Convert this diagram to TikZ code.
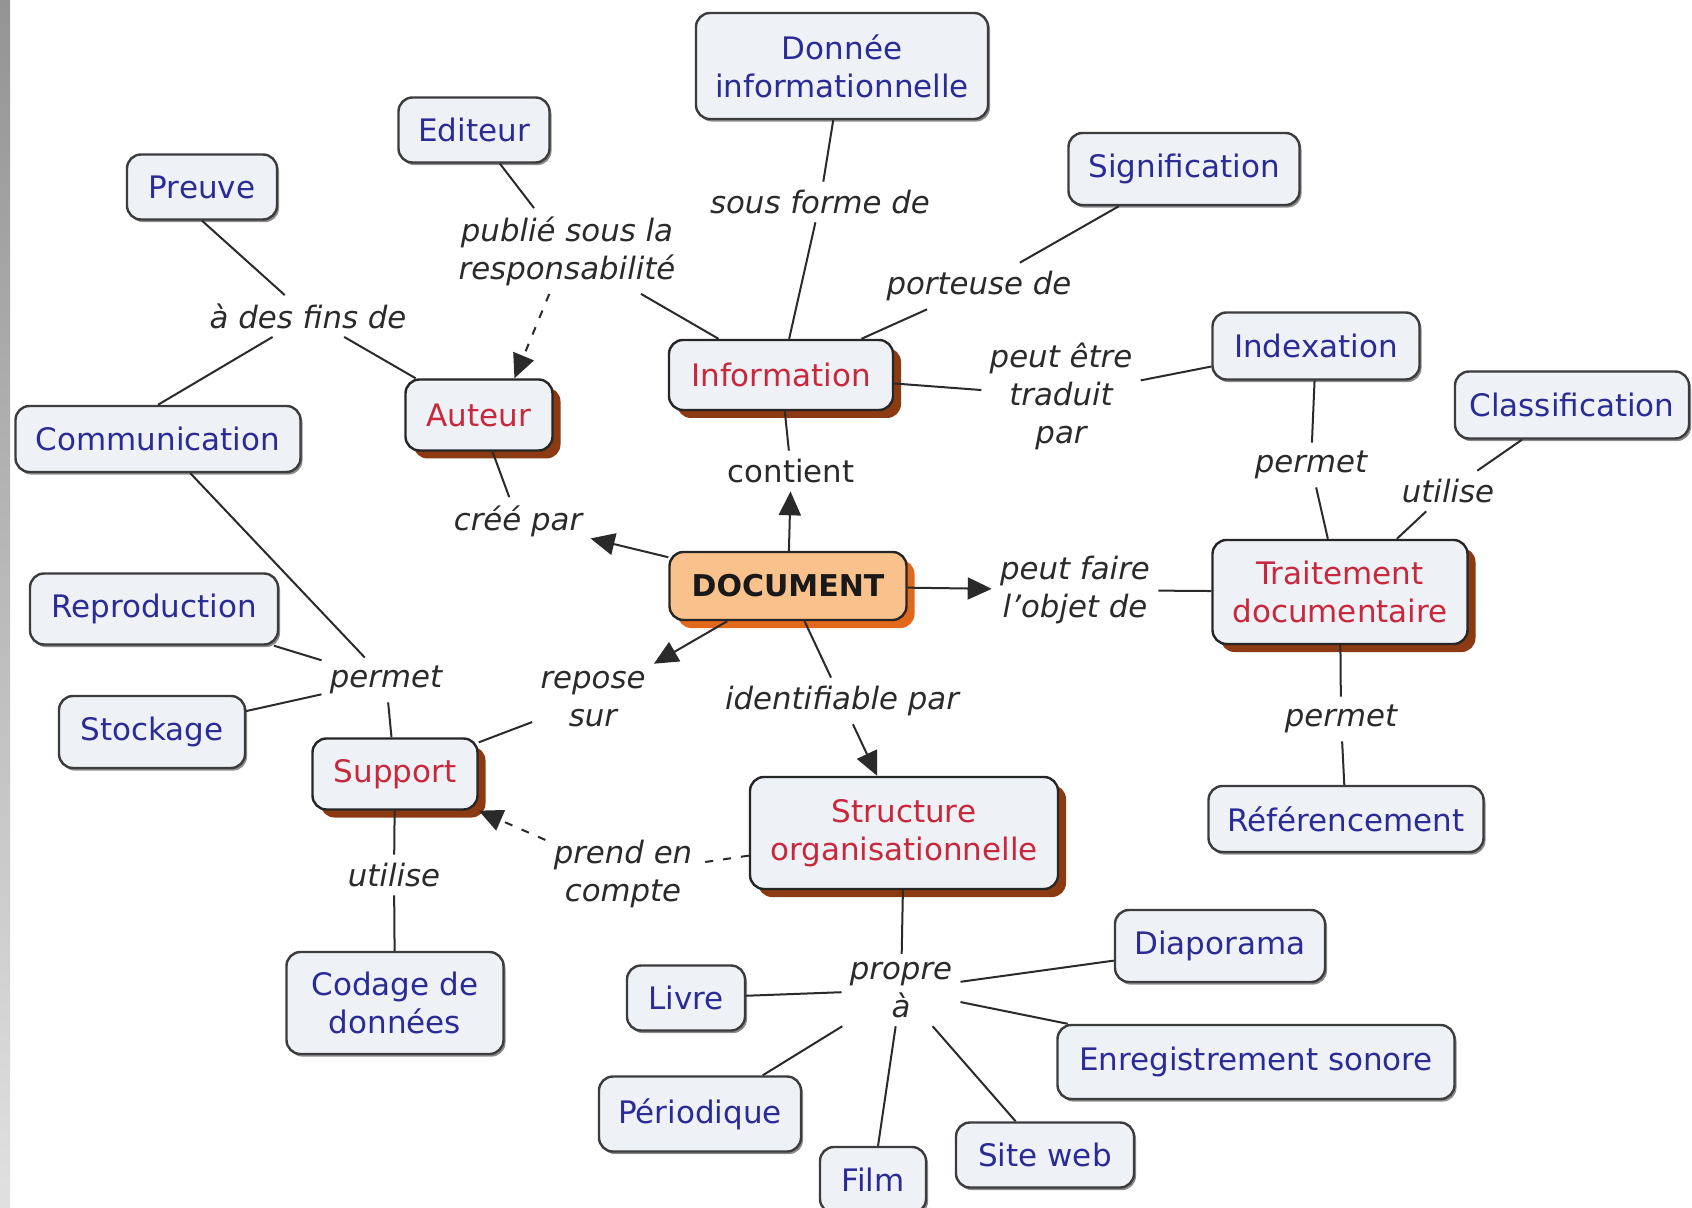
\documentclass[tikz,border=0pt]{standalone}
\usepackage{fontspec}
\setmainfont{DejaVu Sans}
\usetikzlibrary{arrows.meta,shadows}
\definecolor{cfill}{HTML}{EEF2F7}
\definecolor{cblue}{HTML}{2B2B96}
\definecolor{cred}{HTML}{C8283C}
\definecolor{cborder}{HTML}{3C3C3C}
\definecolor{brownsh}{HTML}{8B3A12}
\definecolor{docfill}{HTML}{F9C18C}
\definecolor{docsh}{HTML}{E2681C}
\definecolor{lk}{HTML}{2A2A2A}
\begin{document}
\begin{tikzpicture}[x=0.5pt,y=-0.5pt,
  cbase/.style={draw=cborder, line width=1.2pt, rounded corners=7pt, fill=cfill,
    text=cblue, font=\fontsize{15.5}{19}\selectfont, align=center, inner sep=0pt},
  concept/.style={cbase, drop shadow={shadow xshift=1pt,shadow yshift=-1.3pt,fill=black!45,opacity=1}},
  keyconcept/.style={cbase, text=cred, draw=black!85,
    drop shadow={shadow xshift=4pt,shadow yshift=-4pt,fill=brownsh,opacity=1}},
  docconcept/.style={cbase, fill=docfill, text=black!90, draw=black!85,
    font=\fontsize{15}{18}\selectfont\bfseries,
    drop shadow={shadow xshift=4pt,shadow yshift=-4pt,fill=docsh,opacity=1}},
  lab/.style={text=lk, font=\fontsize{15.4}{19}\selectfont\itshape, align=center, inner sep=4pt},
  labup/.style={lab, font=\fontsize{15.4}{19}\selectfont},
  ln/.style={draw=lk, line width=1pt},
  arr/.style={ln, -{Triangle[length=12pt,width=11pt]}},
  dsh/.style={ln, dash pattern=on 4pt off 5pt},
  darr/.style={dsh, -{Triangle[length=12pt,width=11pt]}}
]
\useasboundingbox (0,0) rectangle (1692,1208);
\fill[white] (0,0) rectangle (1692,1208);
\shade[top color=black!42, bottom color=black!12] (0,0) rectangle (10,1208);

% concepts
\node[concept, minimum width=146pt, minimum height=53pt] (don) at (842,66) {Donnée\\informationnelle};
\node[concept, minimum width=75.5pt, minimum height=32.5pt] (edi) at (474,130) {Editeur};
\node[concept, minimum width=75pt, minimum height=32.5pt] (pre) at (202,187) {Preuve};
\node[concept, minimum width=115.5pt, minimum height=36pt] (sig) at (1184,169) {Signification};
\node[keyconcept, minimum width=112pt, minimum height=35pt] (inf) at (781,375) {Information};
\node[keyconcept, minimum width=73.5pt, minimum height=35.5pt] (aut) at (479,415) {Auteur};
\node[concept, minimum width=142.5pt, minimum height=33pt] (com) at (158,439) {Communication};
\node[concept, minimum width=103.5pt, minimum height=33.5pt] (ind) at (1316,346) {Indexation};
\node[concept, minimum width=117pt, minimum height=33.5pt] (cla) at (1572,405) {Classification};
\node[docconcept, minimum width=118.5pt, minimum height=34pt] (doc) at (788,586) {DOCUMENT};
\node[keyconcept, minimum width=127.5pt, minimum height=52pt] (tra) at (1340,592) {Traitement\\documentaire};
\node[concept, minimum width=124pt, minimum height=35.5pt] (rep) at (154,609) {Reproduction};
\node[concept, minimum width=93pt, minimum height=36pt] (sto) at (152,732) {Stockage};
\node[keyconcept, minimum width=82.5pt, minimum height=35.5pt] (sup) at (395,774) {Support};
\node[keyconcept, minimum width=154pt, minimum height=56pt] (str) at (904,833) {Structure\\organisationnelle};
\node[concept, minimum width=137.5pt, minimum height=33pt] (ref) at (1346,819) {Référencement};
\node[concept, minimum width=108.5pt, minimum height=51pt] (cod) at (395,1003) {Codage de\\données};
\node[concept, minimum width=105pt, minimum height=36pt] (dia) at (1220,946) {Diaporama};
\node[concept, minimum width=59pt, minimum height=32.5pt] (liv) at (686,998) {Livre};
\node[concept, minimum width=198.5pt, minimum height=37pt] (enr) at (1256,1062) {Enregistrement sonore};
\node[concept, minimum width=101pt, minimum height=37.5pt] (per) at (700,1114) {Périodique};
\node[concept, minimum width=89pt, minimum height=32.5pt] (sit) at (1045,1155) {Site web};
\node[concept, minimum width=53pt, minimum height=33pt] (fil) at (873,1180) {Film};

% linking phrases
\node[lab] (pub) at (567,251) {publié sous la\\responsabilité};
\node[lab] (sfd) at (820,202) {sous forme de};
\node[lab] (adf) at (308,316) {à des fins de};
\node[lab] (por) at (979,286) {porteuse de};
\node[lab] (pet) at (1061,396) {peut être\\traduit\\par};
\node[labup] (con) at (791,471) {contient};
\node[lab] (cre) at (518,521) {créé par};
\node[lab] (pe1) at (1311,465) {permet};
\node[lab] (ut1) at (1448,491) {utilise};
\node[lab] (pfo) at (1075,590) {peut faire\\l\char"27 objet de};
\node[lab] (rsu) at (593,699) {repose\\sur};
\node[lab] (idp) at (842,701) {identifiable par};
\node[lab] (pe2) at (386,680) {permet};
\node[lab] (pe3) at (1341,719) {permet};
\node[lab] (ut2) at (394,875) {utilise};
\node[lab] (pec) at (623,874) {prend en\\compte};
\node[lab] (pra) at (901,990) {propre\\à};

% connectors
\draw[ln] (edi) -- (pub);
\draw[ln] (pub) -- (inf);
\draw[darr] (pub) -- (aut.46);
\draw[ln] (don) -- (sfd);
\draw[ln] (sfd) -- (inf);
\draw[ln] (sig) -- (por);
\draw[ln] (por) -- (inf);
\draw[ln] (pre.south) -- (adf);
\draw[ln] (adf) -- (com.north);
\draw[ln] (adf) -- (aut);
\draw[ln] (inf) -- (pet);
\draw[ln] (pet) -- (ind);
\draw[arr] (doc) -- (con);
\draw[ln] (con) -- (inf);
\draw[arr] (doc) -- (cre);
\draw[ln] (cre) -- (aut);
\draw[arr] (doc) -- (pfo);
\draw[ln] (pfo) -- (tra);
\draw[arr] (doc) -- (rsu);
\draw[ln] (rsu) -- (sup);
\draw[ln] (doc) -- (idp);
\draw[arr] (idp) -- (str);
\draw[dsh] (str) -- (pec);
\draw[darr] (pec) -- (sup);
\draw[ln] (sup) -- (pe2);
\draw[ln] (pe2) -- (com);
\draw[ln] (pe2) -- (rep);
\draw[ln] (pe2) -- (sto);
\draw[ln] (sup) -- (ut2);
\draw[ln] (ut2) -- (cod);
\draw[ln] (ind) -- (pe1);
\draw[ln] (pe1) -- (tra);
\draw[ln] (cla) -- (ut1);
\draw[ln] (ut1) -- (tra);
\draw[ln] (tra) -- (pe3);
\draw[ln] (pe3) -- (ref);
\draw[ln] (str) -- (pra);
\draw[ln] (pra) -- (liv);
\draw[ln] (pra) -- (dia);
\draw[ln] (pra) -- (enr);
\draw[ln] (pra) -- (per);
\draw[ln] (pra) -- (fil);
\draw[ln] (pra) -- (sit);
\end{tikzpicture}
\end{document}
